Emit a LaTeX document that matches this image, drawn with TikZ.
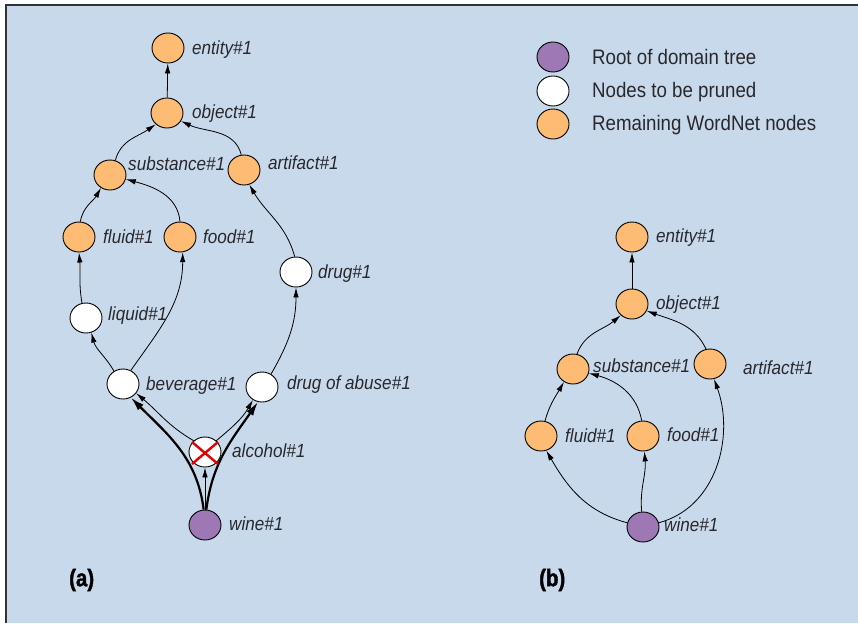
\documentclass[tikz,border=0pt]{standalone}
\usepackage{fontspec}
\setmainfont{Liberation Sans}
\newfontfamily\lblfont{Liberation Sans}[FakeStretch=0.9]
\newfontfamily\legfont{Liberation Sans}[FakeStretch=0.89]
\newfontfamily\capfont{Liberation Sans Bold}[FakeStretch=0.85,FakeBold=1.5]
\usetikzlibrary{arrows.meta,shapes.geometric,calc}
\definecolor{bgblue}{RGB}{200,217,235}
\definecolor{orangenode}{RGB}{253,187,116}
\definecolor{purplenode}{RGB}{158,120,180}
\definecolor{txtgray}{RGB}{40,40,45}
\begin{document}
\begin{tikzpicture}[x=1pt,y=-1pt,
  gnode/.style={ellipse,draw=black,line width=0.9pt,minimum width=32pt,minimum height=30pt,inner sep=0pt},
  keep/.style={gnode,fill=orangenode},
  prune/.style={gnode,fill=white},
  rootn/.style={gnode,fill=purplenode},
  lbl/.style={anchor=west,inner sep=0pt,text height=13pt,text depth=0pt,text=txtgray,font=\lblfont\fontsize{19}{22}\selectfont\itshape},
  leg/.style={anchor=west,inner sep=0pt,text height=15pt,text depth=0pt,text=txtgray,font=\legfont\fontsize{21}{25}\selectfont},
  panelcap/.style={anchor=west,inner sep=0pt,font=\capfont\fontsize{24}{28}\selectfont},
  conn/.style={line width=0.8pt,-{Latex[length=10pt,width=5.5pt]}},
  thickconn/.style={line width=2.2pt,-{Latex[length=14pt,width=8pt]}}
]
\useasboundingbox (0,0) rectangle (858,623);
\fill[white] (0,0) rectangle (858,623);
\fill[bgblue] (6,5) rectangle (858,623);
\draw[line width=1.5pt,color=black!80] (6,623) -- (6,5) -- (858,5);

% ---------- (a) ----------
\node[keep] (aent) at (168,48) {};
\node[keep] (aobj) at (167,113) {};
\node[keep] (asub) at (110,175) {};
\node[keep] (aart) at (244,170) {};
\node[keep] (aflu) at (79,237) {};
\node[keep] (afood) at (180,237) {};
\node[prune] (adrug) at (296,272) {};
\node[prune] (aliq) at (86,318) {};
\node[prune] (abev) at (123,384) {};
\node[prune] (adoa) at (262,387) {};
\node[prune] (aalc) at (205,452) {};
\node[rootn] (awine) at (205,525) {};

\node[lbl] (laent) at (192,48) {entity\#1};
\node[lbl] (laobj) at (192,112) {object\#1};
\node[lbl] (lasub) at (128,164) {substance\#1};
\node[lbl] (laart) at (268,163) {artifact\#1};
\node[lbl] (laflu) at (103,237) {fluid\#1};
\node[lbl] (lafood) at (203,237) {food\#1};
\node[lbl] (ladrug) at (318,272) {drug\#1};
\node[lbl] (laliq) at (108,314) {liquid\#1};
\node[lbl] (labev) at (146,384) {beverage\#1};
\node[lbl] (ladoa) at (287,383) {drug of abuse\#1};
\node[lbl] (laalc) at (232,451) {alcohol\#1};
\node[lbl] (lawine) at (229,524) {wine\#1};

\draw[conn] (aobj) -- (aent);
\draw[conn] (asub.70) to[out=75,in=215] (aobj.225);
\draw[conn] (aart.100) to[out=105,in=335] (aobj.330);
\draw[conn] (aflu.85) to[out=80,in=240] (asub.235);
\draw[conn] (afood.90) to[out=95,in=345] (asub.345);
\draw[conn] (adrug.95) to[out=105,in=300] (aart.290);
\draw[conn] (aliq.105) to[out=100,in=-85] (aflu.270);
\draw[conn] (abev.125) to[out=120,in=-75] (aliq.290);
\draw[conn] (abev.60) to[out=55,in=-90] (afood.280);
\draw[conn] (adoa.55) to[out=60,in=-90] (adrug.270);
\draw[conn] (awine) -- (aalc);
\draw[conn] (aalc.135) to[out=150,in=320] (abev.325);
\draw[conn] (aalc.45) to[out=40,in=240] (adoa.235);
\draw[thickconn] (awine.95) to[out=97,in=315] (abev.300);
\draw[thickconn] (awine.85) to[out=83,in=235] (adoa.255);
\draw[red!90!black,line width=2.4pt] ($(aalc.center)+(-13,-10)$) -- ($(aalc.center)+(13,12)$);
\draw[red!90!black,line width=2.4pt] ($(aalc.center)+(-13,12)$) -- ($(aalc.center)+(13,-10)$);

% ---------- legend ----------
\node[rootn] (lgroot) at (553,57) {};
\node[prune] (lgprune) at (553,91) {};
\node[keep] (lgkeep) at (553,124) {};
\node[leg] (lgt1) at (592,57) {Root of domain tree};
\node[leg] (lgt2) at (592,90) {Nodes to be pruned};
\node[leg] (lgt3) at (592,123) {Remaining WordNet nodes};

% ---------- (b) ----------
\node[keep] (bent) at (632,237) {};
\node[keep] (bobj) at (632,304) {};
\node[keep] (bsub) at (573,369) {};
\node[keep] (bart) at (710,364) {};
\node[keep] (bflu) at (541,436) {};
\node[keep] (bfood) at (643,436) {};
\node[rootn] (bwine) at (643,527) {};

\node[lbl] (lbent) at (656,236) {entity\#1};
\node[lbl] (lbobj) at (656,303) {object\#1};
\node[lbl] (lbsub) at (593,366) {substance\#1};
\node[lbl] (lbart) at (743,368) {artifact\#1};
\node[lbl] (lbflu) at (565,436) {fluid\#1};
\node[lbl] (lbfood) at (667,435) {food\#1};
\node[lbl] (lbwine) at (664,525) {wine\#1};

\draw[conn] (bobj) -- (bent);
\draw[conn] (bsub.75) to[out=70,in=220] (bobj.225);
\draw[conn] (bart.105) to[out=115,in=340] (bobj.335);
\draw[conn] (bflu.75) to[out=75,in=240] (bsub.235);
\draw[conn] (bfood.95) to[out=100,in=345] (bsub.345);
\draw[conn] (bwine.165) to[out=165,in=-60] (bflu.290);
\draw[conn] (bwine.95) to[out=95,in=-85] (bfood.275);
\draw[conn] (bwine.15) to[out=15,in=-70] (bart.285);

\node[panelcap] (capa) at (69,580) {(a)};
\node[panelcap] (capb) at (539,580) {(b)};
\end{tikzpicture}
\end{document}
